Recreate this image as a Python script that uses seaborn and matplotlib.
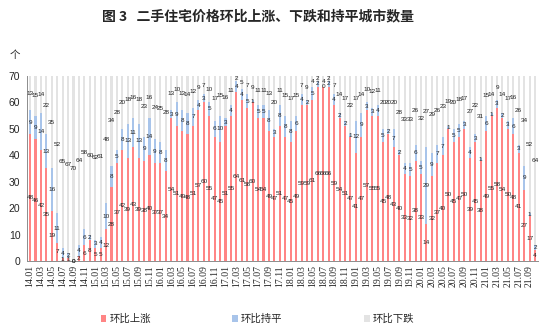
import matplotlib
matplotlib.use("Agg")
import matplotlib.pyplot as plt
from matplotlib.patches import Patch
import numpy as np
import pandas as pd
import seaborn as sns

# Month labels (yy.mm), Jan 2014 - Oct 2021
months = [
    "14.01", "14.02", "14.03", "14.04", "14.05", "14.06", "14.07", "14.08", "14.09", "14.10", "14.11", "14.12",
    "15.01", "15.02", "15.03", "15.04", "15.05", "15.06", "15.07", "15.08", "15.09", "15.10", "15.11", "15.12",
    "16.01", "16.02", "16.03", "16.04", "16.05", "16.06", "16.07", "16.08", "16.09", "16.10", "16.11", "16.12",
    "17.01", "17.02", "17.03", "17.04", "17.05", "17.06", "17.07", "17.08", "17.09", "17.10", "17.11", "17.12",
    "18.01", "18.02", "18.03", "18.04", "18.05", "18.06", "18.07", "18.08", "18.09", "18.10", "18.11", "18.12",
    "19.01", "19.02", "19.03", "19.04", "19.05", "19.06", "19.07", "19.08", "19.09", "19.10", "19.11", "19.12",
    "20.01", "20.02", "20.03", "20.04", "20.05", "20.06", "20.07", "20.08", "20.09", "20.10", "20.11", "20.12",
    "21.01", "21.02", "21.03", "21.04", "21.05", "21.06", "21.07", "21.08", "21.09", "21.10",
]

# Number of cities whose second-hand home prices rose / held / fell month on month
rise = [
    48, 46, 42, 35, 19, 7, 1, 1, 0, 2, 6, 8,
    5, 5, 12, 28, 37, 42, 39, 43, 39, 38, 40, 37,
    37, 34, 54, 51, 49, 48, 51, 57, 60, 55, 47, 45,
    51, 55, 64, 61, 58, 60, 54, 54, 49, 47, 51, 47,
    45, 49, 59, 59, 61, 66, 66, 66, 59, 54, 51, 47,
    41, 47, 57, 55, 55, 45, 48, 43, 40, 33, 32, 38,
    33, 14, 32, 37, 40, 50, 45, 47, 50, 39, 45, 38,
    49, 55, 58, 54, 50, 48, 41, 27, 17, 4,
]
flat = [
    9, 9, 14, 13, 16, 11, 4, 2, 0, 4, 6, 2,
    3, 4, 10, 8, 5, 8, 13, 11, 13, 9, 14, 9,
    8, 8, 3, 9, 8, 8, 7, 4, 3, 5, 6, 10,
    3, 4, 4, 4, 5, 1, 5, 5, 8, 3, 8, 8,
    8, 6, 4, 2, 5, 2, 0, 2, 4, 2, 2, 1,
    12, 9, 3, 3, 4, 5, 2, 7, 2, 4, 5, 6,
    5, 29, 9, 7, 7, 1, 5, 5, 3, 4, 3, 1,
    6, 1, 3, 2, 3, 6, 3, 9, 1, 2,
]
fall = [
    13, 15, 14, 22, 35, 52, 65, 67, 70, 64, 58, 60,
    62, 61, 48, 34, 28, 20, 18, 16, 18, 23, 16, 24,
    25, 28, 13, 10, 13, 14, 12, 9, 7, 10, 17, 15,
    16, 11, 2, 5, 7, 9, 11, 11, 13, 20, 11, 15,
    17, 15, 7, 9, 4, 2, 4, 2, 7, 14, 17, 22,
    17, 14, 10, 12, 11, 20, 20, 20, 28, 33, 33, 26,
    32, 27, 29, 26, 23, 19, 20, 18, 17, 27, 22, 31,
    15, 14, 9, 14, 17, 16, 26, 34, 52, 64,
]

series_names = ["环比上涨", "环比持平", "环比下跌"]
colors = ["#FF8585", "#A8C4EA", "#E3E3E3"]

sns.set_style("white")
plt.rcParams["font.family"] = ["Noto Sans CJK SC", "DejaVu Sans"]

df = pd.DataFrame({"month": months, "rise": rise, "flat": flat, "fall": fall})
df["lvl1"] = df["rise"]
df["lvl2"] = df["rise"] + df["flat"]
df["lvl3"] = df["lvl2"] + df["fall"]

fig = plt.figure(figsize=(5.5, 3.33), dpi=100)
ax = fig.add_axes([0.0497, 0.216, 0.928, 0.556])

bw = 0.38
# stacked bars: draw cumulative totals back to front
for col, c in zip(["lvl3", "lvl2", "lvl1"], colors[::-1]):
    sns.barplot(data=df, x="month", y=col, order=months, color=c,
                saturation=1, width=bw, errorbar=None, ax=ax, linewidth=0)

# value labels at the middle of each segment
lab_kw = dict(ha="center", va="center", fontsize=4.6, color="#222222",
              family="Liberation Sans")
for i in range(len(months)):
    r, f, d = rise[i], flat[i], fall[i]
    ax.text(i, r / 2, str(r), **lab_kw)
    ax.text(i, r + f / 2, str(f), **lab_kw)
    ax.text(i, r + f + d / 2, str(d), **lab_kw)

ax.set_xlim(-0.5, len(months) - 0.5)
ax.set_ylim(0, 70)
ax.set_yticks(np.arange(0, 71, 10))
ax.set_xticks(range(0, len(months), 2))
ax.set_xticklabels(months[::2], rotation=90, fontsize=7, family="Liberation Serif")
for t in ax.get_yticklabels():
    t.set_family("Liberation Sans")
    t.set_fontsize(7.5)
ax.tick_params(axis="y", length=3, width=0.6, color="#888888", pad=2)
ax.tick_params(axis="x", length=0, pad=3)
ax.set_xlabel("")
ax.set_ylabel("")
for s in ["top", "right"]:
    ax.spines[s].set_visible(False)
for s in ["left", "bottom"]:
    ax.spines[s].set_color("#8c8c8c")
    ax.spines[s].set_linewidth(0.7)

fig.text(0.027, 0.835, "个", fontsize=7.5, ha="center", va="center")
fig.text(0.47, 0.952, "图 3   二手住宅价格环比上涨、下跌和持平城市数量",
         fontsize=10, fontweight="bold", ha="center", va="center")

handles = [Patch(facecolor=c, edgecolor="none") for c in colors]
fig.legend(handles, series_names, loc="center", bbox_to_anchor=(0.468, 0.042),
           ncol=3, frameon=False, fontsize=7.5, handlelength=0.55,
           handleheight=0.55, handletextpad=0.3, columnspacing=7.8)

fig.savefig("out.png", dpi=100)
